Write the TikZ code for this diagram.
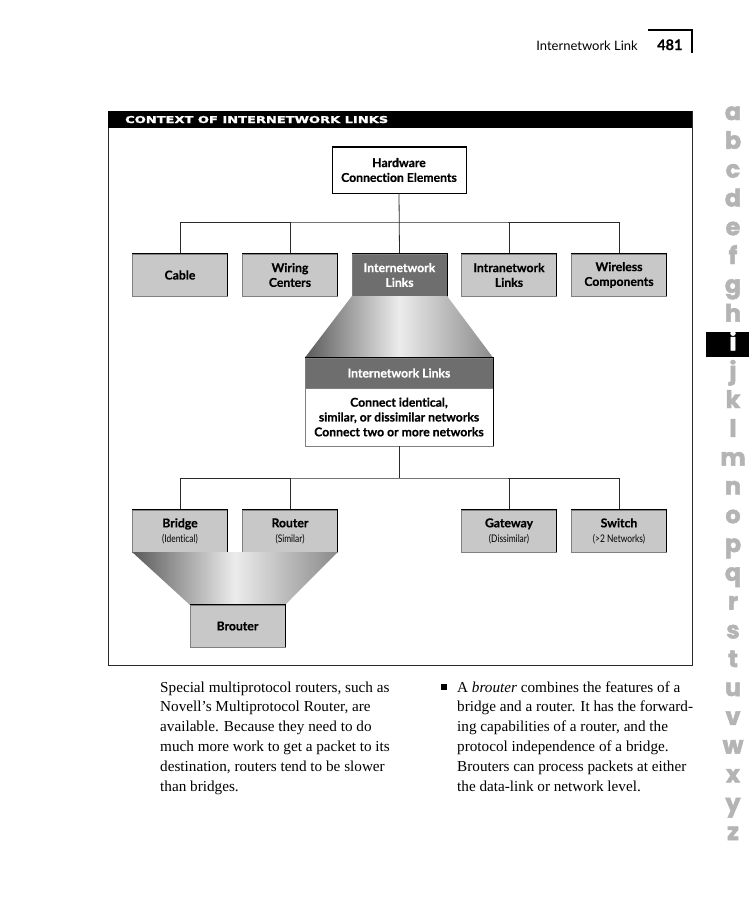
\documentclass[tikz,border=0pt]{standalone}
\usepackage{graphicx}
\usepackage{fontspec}
\setmainfont{Liberation Serif}
\newfontfamily\gill{Lato}[Ligatures=NoCommon, BoldFeatures={FakeBold=0.5}]
\newfontfamily\gillcond{Lato}[Ligatures=NoCommon, FakeStretch=0.8]
\newfontfamily\sidefont{Poppins}[BoldFeatures={FakeBold=2}]
\newfontfamily\titlefont{DejaVu Sans}[BoldFeatures={FakeBold=1.5}]
\usetikzlibrary{calc}
\definecolor{boxgray}{HTML}{C8C8C8}
\definecolor{darkbox}{HTML}{6E6E6E}
\definecolor{sidegray}{HTML}{B4B4B4}
\definecolor{linecol}{HTML}{2A2A2A}
\definecolor{shdark}{HTML}{5A5A5A}
\definecolor{shlight}{HTML}{ECECEC}
\definecolor{shright}{HTML}{8A8A8A}
\tikzset{
  lbox/.style={rectangle, fill=boxgray, draw=gray, line width=0.4pt,
    minimum width=95pt, minimum height=42pt, inner sep=0pt, align=center,
    font=\gill\bfseries\fontsize{12.2}{14.8}\selectfont, text=black},
  dbox/.style={lbox, fill=darkbox, text=white},
  wbox/.style={lbox, fill=white, draw=black, minimum width=134pt, minimum height=46pt},
  edgeline/.style={line width=1pt, draw=black},
  conn/.style={line width=0.8pt, draw=linecol},
  sidelet/.style={anchor=base, text=sidegray, font=\sidefont\bfseries\fontsize{24}{24}\selectfont, inner sep=0pt},
  bodyline/.style={anchor=base west, inner sep=0pt, font=\fontsize{15.2}{19.8}\selectfont}
}
\newcommand{\subtext}[1]{{\gillcond\mdseries\fontsize{10.5}{12}\selectfont #1}}
\begin{document}
\begin{tikzpicture}[x=1pt,y=-1pt]
\useasboundingbox[fill=white] (0,0) rectangle (749,900);

% running header
\node[anchor=base east, inner sep=0pt, font=\gill\fontsize{13}{15}\selectfont] (hdr) at (638,50) {Internetwork Link};
\node[anchor=base west, inner sep=0pt, font=\gill\bfseries\fontsize{14.5}{15}\selectfont] (pg) at (657,50) {481};
\draw[line width=1.3pt] (648,30) -- (692,30) -- (692,53);

% side alphabet
\fill[black] (706,332) rectangle (749,357);
\foreach \l [count=\k from 0] in {a,b,c,d,e,f,g,h,i,j,k,l,m,n,o,p,q,r,s,t,u,v,w,x,y,z}{
  \pgfmathsetmacro{\yy}{113+28.8*\k+7}
  \ifnum\k=8
    \node[sidelet, text=white] (side\l) at (733,\yy) {\l};
  \else
    \node[sidelet] (side\l) at (733,\yy) {\l};
  \fi
}

% frame and title
\draw[line width=0.8pt, draw=linecol] (108,111) rectangle (692,665);
\fill[black] (108,111) rectangle (692,128);
\node[anchor=base west, inner sep=0pt, text=white] (title) at (125,123)
  {\resizebox{263pt}{7pt}{\titlefont\bfseries CONTEXT OF INTERNETWORK LINKS}};

% top box
\node[wbox] (hw) at (399,170) {Hardware\\Connection Elements};

% row 1
\node[lbox] (cable) at (180,275) {Cable};
\node[lbox] (wiring) at (290,275) {Wiring\\Centers};
\node[dbox] (inet) at (399.5,275) {Internetwork\\Links};
\node[lbox] (intra) at (509,275) {Intranetwork\\Links};
\node[lbox] (wireless) at (619,275) {Wireless\\Components};

\coordinate (bus1) at (399.5,222);
\draw[conn] (hw.south) -- (inet.north);
\draw[conn] (cable.north) |- (bus1) -| (wireless.north);
\draw[conn] (wiring.north) -- (wiring.north |- bus1);
\draw[conn] (intra.north) -- (intra.north |- bus1);

% big box
\node[lbox, fill=white, draw=gray, minimum width=188pt, minimum height=58pt] (ilb) at (399,417)
  {Connect identical,\\similar, or dissimilar networks\\Connect two or more networks};
\node[dbox, minimum width=188pt, minimum height=30pt] (ilh) at (399,373) {Internetwork Links};

% funnel 1
\shade[left color=shdark, right color=shright, middle color=shlight]
  (inet.south west) -- (inet.south east) -- (ilh.north east) -- (ilh.north west) -- cycle;

% row 2
\node[lbox] (bridge) at (180,531) {Bridge\\\subtext{(Identical)}};
\node[lbox] (router) at (290,531) {Router\\\subtext{(Similar)}};
\node[lbox] (gateway) at (509,531) {Gateway\\\subtext{(Dissimilar)}};
\node[lbox] (switch) at (619,531) {Switch\\\subtext{(>2 Networks)}};

\coordinate (bus2) at (399,478);
\draw[conn] (ilb.south) -- (bus2);
\draw[conn] (bridge.north) |- (bus2) -| (switch.north);
\draw[conn] (router.north) -- (router.north |- bus2);
\draw[conn] (gateway.north) -- (gateway.north |- bus2);

% brouter
\node[lbox] (brouter) at (237.5,626) {Brouter};
\shade[left color=shdark, right color=shright, middle color=shlight]
  (bridge.south west) -- (router.south east) -- (brouter.north east) -- (brouter.north west) -- cycle;

% dark top/right edges
\foreach \n in {hw,cable,wiring,inet,intra,wireless,bridge,router,gateway,switch,brouter}{
  \draw[edgeline] (\n.north west) -- (\n.north east) -- (\n.south east);
}
\draw[edgeline] (ilh.north west) -- (ilh.north east) -- (ilb.south east);

% body text, left column
\node[bodyline] (l1) at (160,692) {Special multiprotocol routers, such as};
\node[bodyline] (l2) at (160,711.8) {Novell's Multiprotocol Router, are};
\node[bodyline] (l3) at (160,731.6) {available. Because they need to do};
\node[bodyline] (l4) at (160,751.4) {much more work to get a packet to its};
\node[bodyline] (l5) at (160,771.2) {destination, routers tend to be slower};
\node[bodyline] (l6) at (160,791) {than bridges.};

% body text, right column
\fill[black] (441,684) rectangle (447,690);
\node[bodyline] (r1) at (457,692) {A \textit{brouter} combines the features of a};
\node[bodyline] (r2) at (457,711.8) {bridge and a router. It has the forward-};
\node[bodyline] (r3) at (457,731.6) {ing capabilities of a router, and the};
\node[bodyline] (r4) at (457,751.4) {protocol independence of a bridge.};
\node[bodyline] (r5) at (457,771.2) {Brouters can process packets at either};
\node[bodyline] (r6) at (457,791) {the data-link or network level.};
\end{tikzpicture}
\end{document}
